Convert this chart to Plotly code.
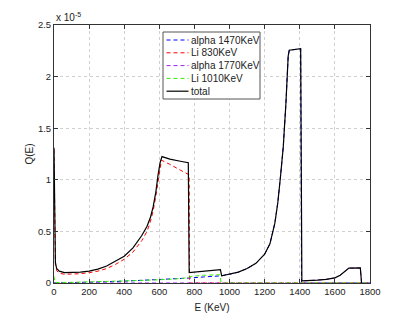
import plotly.graph_objects as go

# energies (KeV) and Q(E) values in units of 1e-5
e_total = [0, 3, 8, 15, 30, 60, 100, 150, 200, 250, 300, 350, 400, 450, 500, 530, 550,
           565, 580, 593, 605, 615, 660, 720, 765, 770, 800, 850, 900, 948, 955, 1000,
           1050, 1100, 1150, 1200, 1230, 1258, 1275, 1290, 1306, 1321, 1334, 1340, 1405,
           1412, 1450, 1500, 1550, 1600, 1630, 1660, 1680, 1745, 1752]
q_total = [1.31, 0.6, 0.2, 0.14, 0.115, 0.1, 0.1, 0.105, 0.115, 0.135, 0.165, 0.21, 0.26,
           0.34, 0.46, 0.55, 0.64, 0.74, 0.88, 1.05, 1.17, 1.225, 1.2, 1.18, 1.165, 0.1,
           0.105, 0.115, 0.12, 0.13, 0.07, 0.085, 0.105, 0.14, 0.19, 0.28, 0.38, 0.58,
           0.78, 1.03, 1.32, 1.74, 2.2, 2.255, 2.27, 0.02, 0.022, 0.028, 0.035, 0.05,
           0.075, 0.115, 0.145, 0.146, 0]

e_li830 = [0, 3, 8, 15, 30, 60, 100, 150, 200, 250, 300, 350, 400, 450, 500, 530, 550,
           565, 580, 593, 605, 612, 660, 700, 745, 770, 772, 1800]
q_li830 = [1.29, 0.58, 0.18, 0.12, 0.095, 0.085, 0.085, 0.09, 0.1, 0.115, 0.14, 0.18, 0.23,
           0.3, 0.41, 0.5, 0.6, 0.7, 0.84, 1.0, 1.13, 1.19, 1.15, 1.11, 1.07, 1.05, 0, 0]

e_alpha1470 = [0, 100, 200, 300, 400, 500, 600, 700, 770, 850, 955, 1000, 1050, 1100,
               1150, 1200, 1230, 1258, 1275, 1290, 1306, 1321, 1334, 1340, 1405, 1410, 1800]
q_alpha1470 = [0, 0.002, 0.006, 0.012, 0.018, 0.025, 0.032, 0.04, 0.048, 0.058, 0.07,
               0.085, 0.105, 0.14, 0.19, 0.28, 0.38, 0.58, 0.78, 1.03, 1.32, 1.74, 2.2,
               2.255, 2.27, 0, 0]

e_alpha1770 = [0, 1410, 1412, 1450, 1500, 1550, 1600, 1630, 1660, 1680, 1745, 1752, 1800]
q_alpha1770 = [0, 0, 0.02, 0.022, 0.028, 0.035, 0.05, 0.075, 0.115, 0.145, 0.146, 0, 0]

e_li1010 = [0, 5, 100, 300, 500, 650, 735, 792, 850, 945, 952, 1800]
q_li1010 = [0.065, 0.005, 0.006, 0.012, 0.025, 0.035, 0.045, 0.065, 0.075, 0.08, 0, 0]

x_ticks = [0, 200, 400, 600, 800, 1000, 1200, 1400, 1600, 1800]
y_ticks = [0, 0.5, 1, 1.5, 2, 2.5]

legend_names = ["alpha 1470KeV", "Li 830KeV", "alpha 1770KeV", "Li 1010KeV", "total"]
legend_colors = ["#0000ff", "#ff0000", "#a020f0", "#33ee00", "black"]

W, H = 409, 320
# page has an 8px body margin, so the plot box is placed 8px up/left
ML, MT, MR, MB = 46, 17, 47, 45
PW, PH = W - ML - MR, H - MT - MB


def px(x):
    return (x - ML) / PW


def py(y):
    return (H - MB - y) / PH


fig = go.Figure()

series = [
    (e_alpha1470, q_alpha1470),
    (e_li830, q_li830),
    (e_alpha1770, q_alpha1770),
    (e_li1010, q_li1010),
]
for (xs, ys), name, color in zip(series, legend_names, legend_colors):
    fig.add_trace(go.Scatter(x=xs, y=ys, mode="lines", name=name, showlegend=False,
                             line=dict(color=color, width=1, dash="4px,3px")))

fig.add_trace(go.Scatter(x=e_total, y=q_total, mode="lines", name="total", showlegend=False,
                         line=dict(color="black", width=1.2)))

# legend drawn by hand (plotly's rows are too tall for the reference)
shapes = [dict(type="rect", xref="paper", yref="paper",
               x0=px(155), x1=px(252), y0=py(91), y1=py(24),
               line=dict(color="#555555", width=1), fillcolor="white", layer="above")]
annotations = []
for i, (name, color) in enumerate(zip(legend_names, legend_colors)):
    yc = 32 + i * 12.8
    shapes.append(dict(type="line", xref="paper", yref="paper",
                       x0=px(158.5), x1=px(180.5), y0=py(yc), y1=py(yc), layer="above",
                       line=dict(color=color, width=1.2 if name == "total" else 1,
                                 dash="solid" if name == "total" else "4px,3px")))
    annotations.append(dict(x=px(181), y=py(yc), xref="paper", yref="paper",
                            xanchor="left", yanchor="middle", text=name, showarrow=False,
                            font=dict(size=10, color="#222222")))

annotations.append(dict(x=0, y=1, xref="paper", yref="paper", xanchor="left",
                        yanchor="bottom", text="x 10<sup>-5</sup>", showarrow=False,
                        font=dict(size=10, color="#222222")))

axis_style = dict(
    showline=True, linecolor="#333333", linewidth=1, mirror="ticks",
    ticks="inside", ticklen=4, tickcolor="#333333",
    showgrid=True, gridcolor="#d0d0d0", griddash="dot", gridwidth=1,
    zeroline=False, tickfont=dict(size=9.5, color="#222222"),
)

fig.update_layout(
    width=W, height=H,
    margin=dict(l=ML, r=MR, t=MT, b=MB),
    plot_bgcolor="white", paper_bgcolor="white",
    font=dict(family="Liberation Sans, Arial, sans-serif", size=10, color="#222222"),
    showlegend=False,
    xaxis=dict(range=[0, 1800], tickvals=x_ticks,
               title=dict(text="E (KeV)", standoff=7, font=dict(size=10)), **axis_style),
    yaxis=dict(range=[0, 2.5], tickvals=y_ticks, ticktext=["0", "0.5", "1", "1.5", "2", "2.5"],
               title=dict(text="Q(E)", standoff=2, font=dict(size=10)), **axis_style),
    shapes=shapes,
    annotations=annotations,
)

fig.write_html("out.html")
